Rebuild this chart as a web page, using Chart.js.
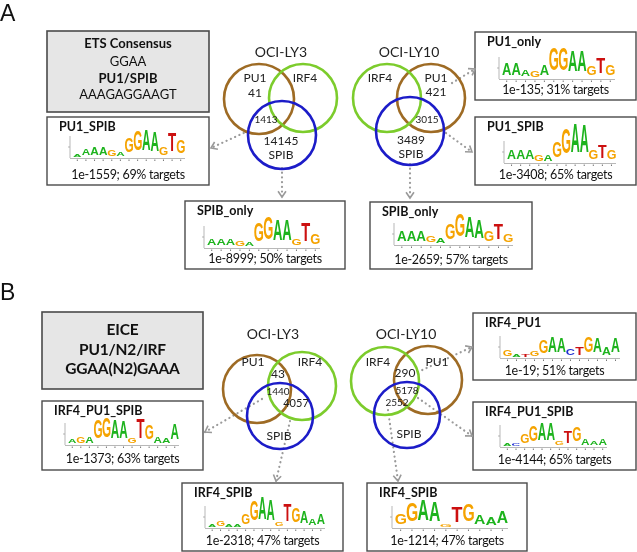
<!DOCTYPE html>
<html><head><meta charset="utf-8">
<script src="https://cdn.jsdelivr.net/npm/chart.js@4/dist/chart.umd.min.js"></script>
<style>html,body{margin:0;padding:0;background:#fff;overflow:hidden}</style>
</head><body>
<canvas id="c" width="637" height="552"></canvas>
<script>
// ---------------- DATA ----------------
const panelLabels = ['A', 'B'];
const cellLines = ['OCI-LY3', 'OCI-LY10'];
const factorNames = ['PU1', 'IRF4', 'SPIB'];
// Venn counts
const countsA_LY3 = ['41', '1413', '14145'];
const countsA_LY10 = ['421', '3015', '3489'];
const countsB_LY3 = ['43', '1440', '4057'];
const countsB_LY10 = ['290', '5178', '2552'];
// consensus boxes
const consensusA = [['ETS Consensus', true], ['GGAA', false], ['PU1/SPIB', true], ['AAAGAGGAAGT', false]];
const consensusB = [['EICE', true], ['PU1/N2/IRF', true], ['GGAA(N2)GAAA', true]];
// motif boxes
const motifNames = ['PU1_SPIB', 'SPIB_only', 'PU1_only', 'PU1_SPIB', 'SPIB_only',
                    'IRF4_PU1_SPIB', 'IRF4_SPIB', 'IRF4_PU1', 'IRF4_PU1_SPIB', 'IRF4_SPIB'];
const motifPValues = ['1e-1559', '1e-8999', '1e-135', '1e-3408', '1e-2659',
                      '1e-1373', '1e-2318', '1e-19', '1e-4144', '1e-1214'];
const motifTargets = [69, 50, 31, 65, 57, 63, 47, 51, 65, 47];
// sequence logo letters and heights
const logoLetters = [
  'AAAAGAGGAAGTG', 'AAAGAGGAAGTG', 'AAAGAGGAAGTG', 'AAAGAGGAAGTG', 'AAAGAGGAAGTG',
  'AGAGGAAGTGAAA', 'AGAAGGAAGTGAAA', 'GATGGAACTGAAA', 'ACGGAAGTGAAA', 'GGAAGTGAAA'];
const logoHeights = [
  [3, 7, 8, 8, 6, 4, 14, 19, 20, 19, 8, 18, 13],
  [7, 7, 7, 5, 4, 18, 22, 21, 20, 7, 18, 11],
  [11, 11, 7, 6, 10, 22, 22, 21, 21, 9, 16, 11],
  [9, 9, 9, 6, 6, 16, 25, 28, 27, 9, 13, 9],
  [10, 10, 10, 7, 5, 16, 22, 20, 18, 10, 16, 8],
  [4, 6, 6, 18, 19, 18, 17, 5, 19, 14, 6, 5, 15],
  [3, 5, 3, 3, 10, 20, 22, 21, 4, 17, 15, 12, 7, 10],
  [6, 2, 2, 5, 13, 15, 14, 7, 8, 16, 14, 8, 14],
  [3, 3, 9, 16, 17, 17, 4, 11, 14, 6, 4, 6],
  [10, 18, 21, 19, 3, 15, 17, 9, 8, 12]];

// ---------------- LAYOUT / STYLE ----------------
const COL = {PU1: '#9e6b24', IRF4: '#7ccc2c', SPIB: '#1c1cc8'};
const LETTER_COL = {A: '#1db31d', C: '#1f2fd0', G: '#f5a300', T: '#cc1010'};
const FONT = 'Lato, "Open Sans", sans-serif';
// venn circles: [cx, cy, r, factor]
const vennCircles = [
  [259, 99, 35, 'PU1'], [303, 98, 34, 'IRF4'], [282, 135, 34, 'SPIB'],
  [431, 98, 34, 'PU1'], [387, 98, 34, 'IRF4'], [410, 131, 34, 'SPIB'],
  [257, 389, 34, 'PU1'], [302, 386, 34, 'IRF4'], [280, 416, 33, 'SPIB'],
  [428, 380, 34, 'PU1'], [385, 381, 34, 'IRF4'], [407, 415, 33, 'SPIB']];
// venn label positions
const vennText = [
  [cellLines[0], 281, 52, 14], [factorNames[0], 255, 78, 12], [countsA_LY3[0], 255, 93, 12],
  [factorNames[1], 305, 78, 12], [countsA_LY3[1], 266, 120, 10], [countsA_LY3[2], 281, 141, 12],
  [factorNames[2], 281, 155, 12],
  [cellLines[1], 409, 52, 14], [factorNames[1], 380, 78, 12], [factorNames[0], 436, 78, 12],
  [countsA_LY10[0], 436, 92, 12], [countsA_LY10[1], 427, 120, 10], [countsA_LY10[2], 411, 140, 12],
  [factorNames[2], 411, 154, 12],
  [cellLines[0], 273, 334, 14], [factorNames[0], 253, 362, 12], [factorNames[1], 310, 362, 12],
  [countsB_LY3[0], 278, 374, 12], [countsB_LY3[1], 278, 392, 10], [countsB_LY3[2], 296, 403, 11],
  [factorNames[2], 279, 436, 12],
  [cellLines[1], 406, 334, 14], [factorNames[1], 378, 362, 12], [factorNames[0], 437, 362, 12],
  [countsB_LY10[0], 405, 373, 12], [countsB_LY10[1], 407, 391, 10], [countsB_LY10[2], 397, 403, 10],
  [factorNames[2], 409, 434, 12]];
// dotted arrows: [x1,y1,x2,y2]
const arrows = [
  [248, 131, 211, 148], [282, 168, 282, 197], [452, 83, 475, 69], [446, 133, 472, 152], [410, 164, 410, 198],
  [262, 399, 205, 432], [290, 421, 276, 481], [418, 372, 472, 347], [418, 398, 472, 436], [388, 410, 398, 481]];
// motif boxes: [x, y, w, h, logoOffsetX, logoWidth, baselineOffset]
const motifBoxes = [
  [47, 117, 162, 68, 26, 112, 41], [185, 201, 160, 68, 22, 113, 47], [475, 32, 161, 68, 27, 113, 47],
  [475, 117, 161, 68, 32, 109, 46], [370, 202, 162, 67, 27, 116, 43],
  [42, 401, 161, 69, 26, 111, 44], [182, 483, 161, 68, 26, 117, 45], [473, 313, 163, 67, 30, 117, 45],
  [473, 402, 163, 68, 30, 104, 45], [367, 483, 160, 68, 28, 113, 45]];
const consensusBoxes = [[47, 31, 162, 81], [42, 312, 161, 77]];

// ---------------- CHART ----------------
function chevron(ctx, x1, y1, x2, y2) {
  const a = Math.atan2(y2 - y1, x2 - x1), L = 7, s = 0.6;
  ctx.beginPath();
  ctx.moveTo(x2 - L * Math.cos(a - s), y2 - L * Math.sin(a - s));
  ctx.lineTo(x2, y2);
  ctx.lineTo(x2 - L * Math.cos(a + s), y2 - L * Math.sin(a + s));
  ctx.stroke();
}
function drawLogo(ctx, x0, base, width, letters, heights) {
  const n = letters.length, cw = width / n;
  ctx.save();
  ctx.strokeStyle = '#999'; ctx.lineWidth = 0.7;
  ctx.beginPath(); ctx.moveTo(x0 - 3, base); ctx.lineTo(x0 - 3, base - 22);
  ctx.moveTo(x0 - 5, base - 11); ctx.lineTo(x0 - 3, base - 11);
  ctx.moveTo(x0 - 3, base + 0.5); ctx.lineTo(x0 + width, base + 0.5); ctx.stroke();
  ctx.fillStyle = '#777';
  for (let i = 0; i < n; i++) ctx.fillRect(x0 + i * cw + cw / 2 - 0.5, base + 1.5, 1, 1.5);
  ctx.restore();
  ctx.font = 'bold 100px "Liberation Sans"';
  for (let i = 0; i < n; i++) {
    const L = letters[i], h = heights[i];
    const m = ctx.measureText(L);
    const asc = m.actualBoundingBoxAscent, desc = m.actualBoundingBoxDescent;
    const w = m.actualBoundingBoxRight + m.actualBoundingBoxLeft;
    ctx.save();
    ctx.translate(x0 + i * cw + 0.3, base);
    ctx.scale((cw - 0.6) / w, h / (asc + desc));
    ctx.fillStyle = LETTER_COL[L];
    ctx.textBaseline = 'alphabetic';
    ctx.fillText(L, m.actualBoundingBoxLeft, -desc);
    ctx.restore();
  }
}
function setSpacing(ctx, v) { if ('letterSpacing' in ctx) ctx.letterSpacing = v; }

const overlay = {
  id: 'overlay',
  beforeDatasetsDraw(chart) {
    const ctx = chart.ctx, X = v => chart.scales.x.getPixelForValue(v), Y = v => chart.scales.y.getPixelForValue(v);
    ctx.save();
    ctx.fillStyle = '#fff'; ctx.fillRect(0, 0, chart.width, chart.height);
    ctx.fillStyle = '#111'; ctx.font = '23px "Liberation Sans"'; ctx.textBaseline = 'alphabetic'; ctx.textAlign = 'left';
    ctx.fillText(panelLabels[0], X(0), Y(21));
    ctx.fillText(panelLabels[1], X(0), Y(300));
    consensusBoxes.forEach((b, k) => {
      const x = X(b[0]), y = Y(b[1]), w = X(b[0] + b[2]) - x, h = Y(b[1] + b[3]) - y;
      ctx.fillStyle = '#e6e6e6'; ctx.fillRect(x, y, w, h);
      ctx.strokeStyle = '#4a4a4a'; ctx.lineWidth = 1.6; ctx.strokeRect(x, y, w, h);
      const lines = k === 0 ? consensusA : consensusB;
      const ys = k === 0 ? [44, 62, 79, 95] : [330, 350, 369];
      ctx.fillStyle = '#111'; ctx.textAlign = 'center'; ctx.textBaseline = 'middle';
      setSpacing(ctx, k === 0 ? '0px' : '-0.2px');
      lines.forEach((ln, i) => {
        ctx.font = (ln[1] ? 'bold ' : '') + (k === 0 ? '13px ' : '15.5px ') + FONT;
        ctx.fillText(ln[0], X(b[0] + b[2] / 2), Y(ys[i]));
      });
      setSpacing(ctx, '0px');
    });
    motifBoxes.forEach((b, i) => {
      const x = X(b[0]), y = Y(b[1]), w = X(b[0] + b[2]) - x, h = Y(b[1] + b[3]) - y;
      ctx.fillStyle = '#fff'; ctx.fillRect(x, y, w, h);
      ctx.strokeStyle = '#4a4a4a'; ctx.lineWidth = 1.4; ctx.strokeRect(x, y, w, h);
      ctx.fillStyle = '#111'; ctx.textAlign = 'left'; ctx.textBaseline = 'middle';
      ctx.font = 'bold 12.5px ' + FONT;
      ctx.fillText(motifNames[i], X(b[0] + 12), Y(b[1] + 10));
      ctx.font = '12.5px ' + FONT; ctx.textAlign = 'center';
      setSpacing(ctx, '-0.3px');
      ctx.fillText(motifPValues[i] + '; ' + motifTargets[i] + '% targets', X(b[0] + b[2] / 2), Y(b[1] + 58));
      setSpacing(ctx, '0px');
      drawLogo(ctx, X(b[0] + b[4]), Y(b[1] + b[6]), X(b[0] + b[4] + b[5]) - X(b[0] + b[4]), logoLetters[i], logoHeights[i]);
    });
    ctx.restore();
  },
  afterDatasetsDraw(chart) {
    const ctx = chart.ctx, X = v => chart.scales.x.getPixelForValue(v), Y = v => chart.scales.y.getPixelForValue(v);
    ctx.save();
    ctx.fillStyle = '#222'; ctx.textAlign = 'center'; ctx.textBaseline = 'middle';
    vennText.forEach(t => { ctx.font = t[3] + 'px ' + FONT; ctx.fillText(t[0], X(t[1]), Y(t[2])); });
    ctx.strokeStyle = '#9a9a9a'; ctx.lineWidth = 1.6; ctx.setLineDash([]);
    arrows.forEach(a => chevron(ctx, X(a[0]), Y(a[1]), X(a[2]), Y(a[3])));
    ctx.restore();
  }
};

const datasets = [{
  type: 'bubble',
  data: vennCircles.map(c => ({x: c[0], y: c[1], r: c[2]})),
  backgroundColor: 'rgba(0,0,0,0)',
  borderColor: vennCircles.map(c => COL[c[3]]),
  hoverBorderColor: vennCircles.map(c => COL[c[3]]),
  borderWidth: 2.6, hoverBorderWidth: 2.6, clip: false, order: 1
}];
arrows.forEach(a => datasets.push({
  type: 'line',
  data: [{x: a[0], y: a[1]}, {x: a[2], y: a[3]}],
  borderColor: '#9a9a9a', borderWidth: 2.2, borderDash: [0.1, 4.6], borderCapStyle: 'round',
  pointRadius: 0, fill: false, tension: 0, clip: false, order: 2
}));

new Chart(document.getElementById('c'), {
  type: 'scatter',
  data: {datasets},
  options: {
    responsive: false, animation: false, devicePixelRatio: 1,
    layout: {padding: 0, autoPadding: false},
    events: [],
    plugins: {legend: {display: false}, tooltip: {enabled: false}},
    scales: {
      x: {type: 'linear', min: 0, max: 637, display: false},
      y: {type: 'linear', min: 0, max: 552, reverse: true, display: false}
    }
  },
  plugins: [overlay]
});
</script>
</body></html>
